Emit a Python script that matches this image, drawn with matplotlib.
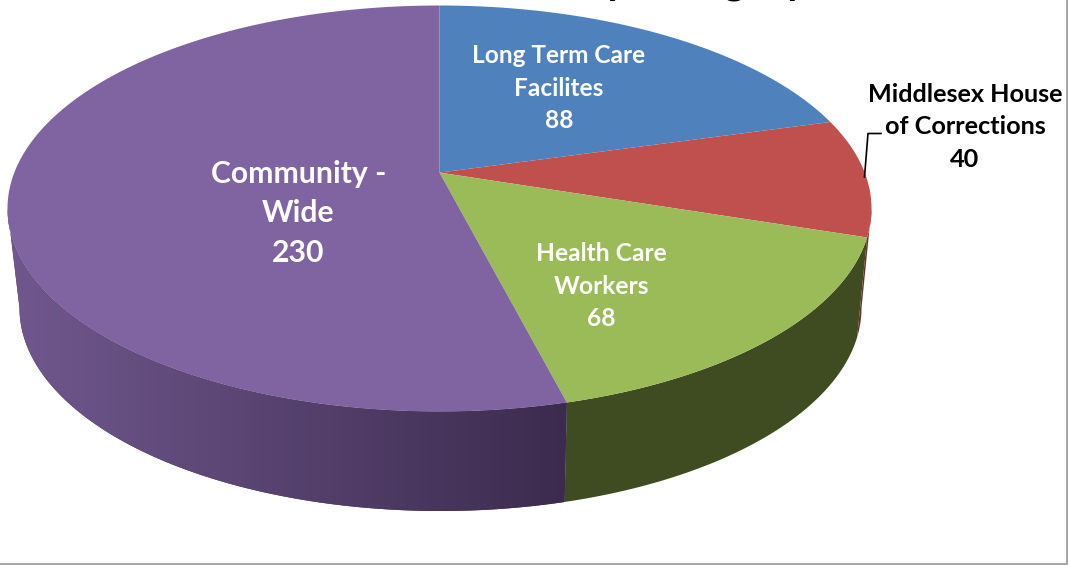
import numpy as np
import matplotlib
matplotlib.use("Agg")
import matplotlib.pyplot as plt
from matplotlib.patches import Polygon

# pie values, clockwise from 12 o'clock
categories = ["Long Term Care\nFacilites", "Middlesex House\nof Corrections", "Health Care\nWorkers", "Community -\nWide"]
values = [88, 40, 68, 230]
top_colors = ["#4f81bd", "#c0504d", "#9bbb59", "#8064a2"]
side_colors = ["#2a4564", "#6e2b29", "#3f4c21", "#4a3760"]

# ellipse of the top face and of the bottom rim, in pixels
TOP = (439.5, 208.5, 432.0, 203.0)
BOT = (440.5, 308.0, 421.0, 203.0)
APEX_SHIFT = 0.177  # perspective: pie centre sits above the ellipse centre


def rim(theta, ell):
    # perspective map of the unit circle onto the ellipse
    cx, cy, rx, ry = ell
    u, v = np.sin(theta), np.cos(theta)
    c = APEX_SHIFT
    d = 1 + c * v
    return cx + rx * u * np.sqrt(1 - c**2) / d, cy - ry * (v + c) / d


def main():
    plt.rcParams["font.family"] = ["Lato", "DejaVu Sans"]
    plt.rcParams["font.weight"] = "bold"

    fig = plt.figure(figsize=(10.69, 5.65), dpi=100)
    ax = fig.add_axes([0, 0, 1, 1])
    ax.set_xlim(0, 1069)
    ax.set_ylim(565, 0)
    ax.axis("off")

    edges = np.concatenate([[0], np.cumsum(values)]) / sum(values) * 2 * np.pi

    # the wall is only seen between the left and right extremes of the ellipse
    wall_from = np.arccos(-APEX_SHIFT)
    wall_to = 2 * np.pi - wall_from

    # outer wall
    for i in range(len(values)):
        lo = max(edges[i], wall_from)
        hi = min(edges[i + 1], wall_to)
        if hi <= lo:
            continue
        t = np.linspace(lo, hi, 300)
        tx, ty = rim(t, TOP)
        bx, by = rim(t, BOT)
        pts = np.vstack([np.c_[tx, ty], np.c_[bx[::-1], by[::-1]]])
        poly = Polygon(pts, closed=True, fc=side_colors[i], ec="none", zorder=2)
        ax.add_patch(poly)
        if i == 3:
            # wall of the big slice is shaded left to right
            grad = np.linspace(0, 1, 256).reshape(1, -1)
            cmap = matplotlib.colors.LinearSegmentedColormap.from_list("wall", ["#70588e", "#3c2b4e"])
            im = ax.imshow(grad, extent=[8, 568, 515, 200], cmap=cmap, aspect="auto", zorder=2.1)
            im.set_clip_path(poly)
            ax.set_xlim(0, 1069)
            ax.set_ylim(565, 0)

    # top face
    apex = (TOP[0], TOP[1] - TOP[3] * APEX_SHIFT)
    for i in range(len(values)):
        t = np.linspace(edges[i], edges[i + 1], 300)
        tx, ty = rim(t, TOP)
        pts = np.vstack([[apex], np.c_[tx, ty]])
        ax.add_patch(Polygon(pts, closed=True, fc=top_colors[i], ec="none", zorder=3))

    # data labels
    ax.text(559, 88, f"{categories[0]}\n{values[0]}", color="white", fontsize=17.6, ha="center", va="center", linespacing=1.48, zorder=5)
    ax.text(965, 127, f"{categories[1]}\n{values[1]}", color="black", fontsize=18.2, ha="center", va="center", linespacing=1.5, zorder=5)
    ax.text(601.5, 286, f"{categories[2]}\n{values[2]}", color="white", fontsize=17.7, ha="center", va="center", linespacing=1.48, zorder=5)
    ax.text(298.5, 213.5, f"{categories[3]}\n{values[3]}", color="white", fontsize=21.7, ha="center", va="center", linespacing=1.48, zorder=5)

    # leader line of the outside label
    ax.plot([881, 868, 864.5], [133.5, 133.5, 177], color="black", lw=1.2, zorder=5)

    # chart title, cut by the top of the image
    ax.text(807, -6.5, "Cases by Category", color="black", fontsize=30, ha="right", va="baseline", zorder=5)

    # frame
    ax.plot([1066.5, 1066.5, 0], [0, 564, 564], color="#a6a6a6", lw=1.5, zorder=6, clip_on=False)

    fig.savefig("out.png", dpi=100)


if __name__ == "__main__":
    main()
